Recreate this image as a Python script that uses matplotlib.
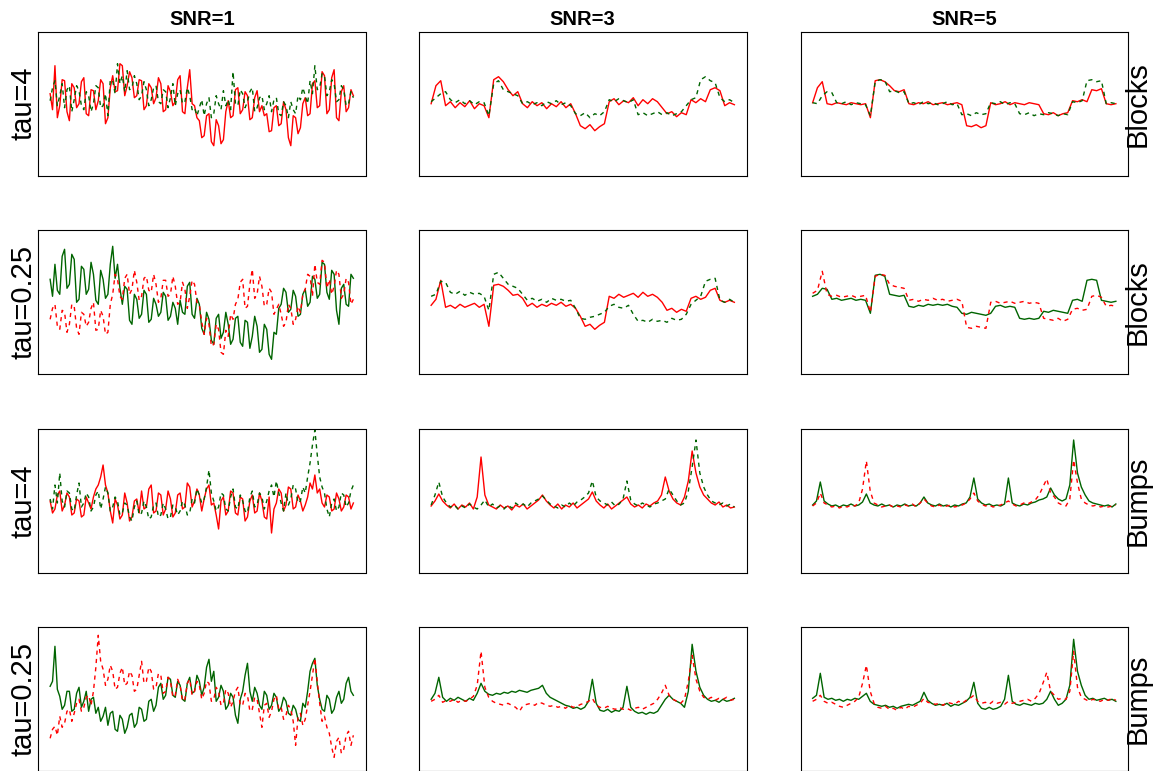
import matplotlib.pyplot as plt
import numpy as np

plt.rcParams['font.family'] = ['Liberation Sans', 'DejaVu Sans']

snr_labels = ['SNR=1', 'SNR=3', 'SNR=5']
tau_labels = ['tau=4', 'tau=0.25', 'tau=4', 'tau=0.25']
signal_labels = ['Blocks', 'Blocks', 'Bumps', 'Bumps']

# values: height above the panel bottom (panel = 144 units)
# Blocks, tau=4
blk_t4_s1_red = [82, 66, 110, 58, 70, 96, 95, 64, 55, 92, 88, 68, 72, 94, 98, 62, 60, 86, 85, 66,
                 75, 96, 92, 52, 58, 88, 100, 84, 85, 112, 110, 80, 90, 104, 98, 78, 80, 96, 95, 66,
                 70, 92, 88, 72, 78, 98, 92, 64, 66, 90, 84, 70, 74, 96, 100, 64, 62, 88, 106, 72,
                 70, 58, 55, 38, 40, 60, 62, 34, 30, 56, 50, 32, 36, 64, 75, 58, 60, 86, 88, 62,
                 66, 84, 80, 56, 58, 78, 85, 64, 70, 60, 62, 44, 45, 68, 70, 50, 52, 74, 66, 38,
                 30, 60, 58, 42, 48, 72, 78, 60, 62, 92, 95, 68, 70, 104, 100, 62, 66, 98, 106, 58,
                 55, 84, 90, 64, 68, 86, 80]
blk_t4_s1_green = [75, 88, 95, 70, 80, 92, 68, 86, 90, 64, 76, 90, 85, 70, 66, 84, 80, 64, 72, 90,
                   88, 68, 70, 82, 60, 96, 95, 82, 112, 92, 100, 84, 105, 86, 88, 100, 92, 76, 80, 94,
                   86, 70, 76, 88, 90, 74, 72, 86, 84, 68, 78, 92, 70, 82, 86, 72, 74, 88, 80, 66,
                   68, 60, 68, 76, 60, 72, 78, 58, 62, 80, 72, 66, 85, 70, 76, 66, 104, 72, 70, 86,
                   82, 68, 74, 84, 88, 64, 68, 78, 80, 66, 72, 80, 64, 76, 78, 62, 60, 74, 70, 58,
                   74, 66, 62, 80, 76, 88, 80, 72, 95, 82, 110, 86, 88, 102, 100, 80, 84, 96, 92, 74,
                   76, 90, 86, 70, 72, 84, 78]
blk_t4_s3_red = [72, 90, 95, 70, 74, 68, 73, 69, 75, 67, 72, 70, 58, 96, 99, 94, 86, 80, 84, 72,
                 68, 74, 70, 73, 67, 72, 69, 74, 68, 72, 62, 50, 47, 51, 45, 49, 52, 74, 77, 71,
                 75, 73, 78, 70, 76, 72, 77, 74, 68, 62, 64, 59, 63, 61, 76, 73, 77, 74, 86, 88,
                 85, 70, 73, 71]
blk_t4_s3_green = [74, 78, 82, 84, 76, 73, 76, 72, 75, 71, 74, 73, 60, 92, 95, 86, 84, 82, 80, 72,
                   74, 71, 73, 70, 74, 72, 75, 71, 73, 70, 62, 60, 63, 58, 62, 60, 64, 76, 74, 77,
                   75, 73, 76, 61, 63, 60, 62, 64, 61, 63, 60, 62, 64, 70, 76, 78, 96, 99, 95, 93,
                   78, 74, 76, 73]
blk_t4_s5_red = [73, 88, 94, 72, 71, 73, 72, 71, 73, 72, 71, 72, 58, 95, 96, 94, 90, 85, 84, 86,
                 72, 71, 73, 72, 74, 71, 72, 73, 71, 72, 73, 71, 50, 49, 51, 48, 50, 73, 71, 72,
                 74, 71, 73, 72, 71, 73, 72, 71, 62, 61, 63, 60, 62, 63, 75, 74, 76, 74, 86, 85,
                 87, 72, 71, 72]
blk_t4_s5_green = [73, 72, 80, 84, 83, 73, 72, 74, 71, 73, 72, 71, 60, 94, 96, 95, 84, 85, 83, 84,
                   72, 73, 71, 74, 72, 73, 71, 72, 74, 71, 72, 61, 62, 60, 63, 61, 62, 73, 72, 74,
                   71, 73, 72, 62, 61, 63, 60, 62, 61, 63, 62, 60, 62, 61, 74, 73, 75, 95, 96, 94,
                   95, 72, 73, 72]

# Blocks, tau=0.25
blk_t025_s1_red = [55, 66, 70, 48, 45, 64, 62, 42, 50, 70, 68, 46, 40, 62, 60, 48, 52, 66, 72, 44,
                   45, 64, 58, 40, 42, 70, 80, 100, 95, 78, 75, 96, 100, 80, 85, 104, 92, 74, 78, 96,
                   98, 84, 82, 100, 90, 72, 76, 94, 94, 78, 80, 98, 88, 70, 72, 92, 85, 66, 78, 94,
                   90, 72, 70, 52, 40, 56, 50, 28, 30, 50, 45, 22, 20, 44, 38, 60, 55, 70, 75, 92,
                   95, 66, 68, 90, 105, 76, 80, 98, 88, 68, 70, 86, 82, 60, 65, 70, 60, 48, 52, 70,
                   66, 50, 55, 68, 62, 80, 85, 100, 98, 78, 110, 92, 90, 114, 112, 86, 95, 80, 88, 104,
                   100, 76, 80, 96, 92, 70, 75]
blk_t025_s1_green = [95, 78, 110, 84, 80, 118, 125, 86, 90, 120, 115, 72, 75, 108, 105, 80, 85, 112, 100, 74,
                     70, 104, 95, 76, 80, 110, 128, 96, 110, 86, 70, 88, 85, 54, 50, 80, 75, 56, 60, 84,
                     80, 52, 55, 76, 70, 58, 62, 82, 78, 54, 58, 72, 66, 50, 74, 62, 60, 88, 92, 60,
                     56, 76, 70, 46, 40, 62, 55, 34, 30, 56, 60, 36, 42, 62, 50, 30, 35, 56, 58, 32,
                     28, 54, 52, 26, 38, 58, 48, 22, 25, 50, 45, 20, 15, 42, 40, 66, 70, 86, 82, 62,
                     65, 84, 78, 58, 60, 80, 85, 68, 72, 98, 95, 76, 80, 112, 110, 82, 75, 104, 100, 64,
                     50, 86, 90, 70, 68, 100, 96]
blk_t025_s3_red = [69, 75, 94, 67, 69, 66, 70, 67, 69, 71, 67, 70, 48, 89, 90, 88, 84, 79, 80, 76,
                   68, 71, 67, 70, 68, 71, 69, 72, 68, 70, 66, 58, 48, 50, 45, 49, 52, 78, 76, 80,
                   77, 79, 81, 77, 82, 78, 80, 77, 72, 64, 66, 62, 65, 63, 76, 78, 75, 77, 84, 86,
                   74, 72, 74, 72]
blk_t025_s3_green = [78, 80, 93, 92, 82, 80, 83, 79, 82, 80, 81, 78, 64, 100, 102, 96, 90, 88, 86, 80,
                     74, 76, 73, 75, 72, 76, 74, 75, 73, 74, 66, 56, 55, 57, 58, 60, 62, 68, 70, 67,
                     66, 69, 60, 53, 54, 52, 55, 53, 54, 52, 56, 54, 55, 60, 70, 74, 78, 93, 95, 96,
                     74, 72, 75, 72]
blk_t025_s5_red = [81, 84, 103, 80, 78, 79, 77, 78, 79, 77, 78, 79, 62, 98, 100, 99, 90, 88, 87, 86,
                   74, 75, 73, 75, 74, 76, 74, 75, 73, 74, 75, 73, 47, 46, 48, 47, 46, 72, 73, 71,
                   72, 73, 71, 72, 73, 71, 72, 71, 56, 55, 54, 56, 53, 55, 65, 66, 64, 65, 78, 79,
                   77, 68, 69, 68]
blk_t025_s5_green = [78, 80, 86, 85, 75, 76, 74, 75, 76, 74, 75, 74, 61, 99, 100, 98, 80, 79, 78, 79,
                     68, 67, 69, 68, 70, 69, 70, 69, 70, 68, 67, 61, 60, 62, 61, 60, 59, 61, 68, 69,
                     67, 68, 67, 56, 55, 56, 55, 56, 63, 62, 64, 63, 62, 61, 74, 75, 73, 94, 95, 94,
                     74, 73, 72, 73]

# Bumps, tau=4
bmp_t4_s1_red = [72, 60, 64, 78, 82, 62, 68, 80, 76, 58, 60, 74, 72, 56, 58, 76, 70, 64, 76, 84,
                 88, 96, 108, 88, 80, 62, 50, 74, 68, 54, 58, 80, 70, 52, 56, 72, 74, 60, 82, 64,
                 66, 84, 88, 60, 62, 80, 78, 58, 64, 82, 74, 56, 60, 78, 80, 64, 66, 90, 86, 66,
                 72, 84, 78, 62, 74, 84, 88, 68, 70, 58, 44, 72, 76, 58, 62, 82, 80, 60, 58, 76,
                 74, 52, 56, 72, 78, 60, 62, 80, 72, 56, 54, 76, 40, 64, 70, 84, 80, 62, 68, 86,
                 84, 64, 66, 78, 72, 62, 68, 76, 90, 84, 98, 80, 84, 70, 66, 78, 76, 62, 64, 80,
                 74, 62, 66, 78, 76, 64, 70]
bmp_t4_s1_green = [74, 64, 88, 70, 100, 72, 66, 82, 80, 64, 62, 78, 90, 66, 70, 80, 76, 62, 66, 78,
                   82, 64, 74, 86, 80, 62, 66, 76, 72, 58, 60, 70, 68, 56, 52, 66, 72, 58, 60, 72,
                   66, 54, 56, 68, 70, 56, 58, 70, 64, 54, 56, 68, 66, 58, 62, 72, 68, 58, 60, 74,
                   70, 84, 78, 70, 74, 86, 103, 80, 72, 62, 66, 80, 78, 64, 62, 76, 84, 66, 64, 78,
                   72, 62, 60, 76, 82, 66, 68, 80, 76, 64, 72, 82, 88, 76, 92, 80, 70, 62, 80, 68,
                   74, 88, 84, 70, 72, 86, 80, 96, 110, 128, 143, 118, 96, 86, 80, 64, 56, 70, 74, 62,
                   66, 80, 78, 66, 70, 82, 88]
bmp_t4_s3_red = [67, 72, 79, 72, 68, 65, 69, 64, 68, 66, 70, 64, 76, 116, 78, 68, 66, 64, 68, 65,
                 67, 63, 68, 66, 69, 64, 67, 70, 73, 78, 72, 68, 65, 69, 64, 68, 66, 70, 65, 68,
                 71, 74, 81, 72, 68, 65, 69, 64, 67, 70, 73, 76, 69, 66, 68, 65, 69, 67, 70, 72,
                 78, 96, 82, 74, 70, 68, 76, 92, 122, 100, 86, 78, 74, 70, 68, 71, 66, 68, 65, 66]
bmp_t4_s3_green = [68, 78, 91, 76, 70, 66, 68, 64, 67, 65, 69, 66, 64, 68, 73, 66, 69, 65, 67, 64,
                   68, 65, 70, 67, 69, 66, 70, 72, 74, 77, 73, 69, 67, 65, 68, 66, 70, 67, 71, 73,
                   76, 80, 92, 76, 72, 70, 68, 71, 67, 69, 74, 92, 73, 69, 67, 70, 68, 66, 69, 70,
                   72, 74, 84, 78, 72, 68, 70, 82, 106, 133, 100, 86, 78, 72, 70, 68, 70, 67, 69, 66]
bmp_t4_s5_red = [67, 70, 80, 70, 68, 66, 67, 65, 67, 66, 68, 67, 70, 84, 112, 82, 70, 68, 66, 67,
                 68, 66, 67, 66, 68, 67, 69, 66, 70, 74, 70, 67, 66, 68, 66, 67, 68, 66, 67, 68,
                 70, 74, 80, 72, 69, 67, 68, 66, 67, 68, 70, 72, 69, 67, 68, 70, 69, 71, 73, 78,
                 86, 94, 80, 76, 70, 68, 67, 74, 113, 90, 74, 70, 68, 67, 68, 66, 67, 66, 67, 68]
bmp_t4_s5_green = [68, 72, 91, 72, 69, 67, 68, 66, 68, 67, 69, 67, 68, 71, 79, 70, 68, 67, 69, 67,
                   68, 66, 68, 67, 69, 67, 68, 67, 70, 76, 70, 68, 67, 69, 67, 68, 66, 68, 67, 69,
                   70, 76, 95, 74, 70, 68, 69, 67, 68, 67, 69, 95, 70, 68, 67, 69, 68, 70, 71, 73,
                   74, 76, 85, 78, 74, 72, 74, 88, 133, 100, 86, 78, 72, 70, 69, 68, 67, 68, 66, 69]

# Bumps, tau=0.25
bmp_t025_s1_red = [33, 42, 45, 36, 55, 44, 48, 60, 62, 50, 58, 68, 72, 60, 64, 74, 76, 66, 80, 104,
                   136, 110, 102, 86, 92, 106, 100, 82, 84, 98, 104, 86, 88, 100, 96, 80, 82, 96, 110, 88,
                   90, 104, 100, 82, 84, 98, 96, 78, 80, 94, 90, 74, 76, 92, 86, 70, 72, 88, 92, 76,
                   80, 90, 86, 72, 78, 90, 88, 70, 72, 84, 80, 66, 68, 82, 78, 64, 70, 80, 84, 66,
                   66, 78, 76, 60, 62, 74, 72, 58, 44, 66, 68, 54, 60, 72, 76, 62, 64, 52, 56, 66,
                   62, 50, 26, 54, 58, 46, 52, 66, 80, 96, 113, 90, 68, 50, 55, 44, 38, 24, 14, 30,
                   34, 18, 22, 36, 40, 26, 36]
bmp_t025_s1_green = [85, 90, 125, 82, 75, 62, 66, 80, 80, 60, 62, 78, 84, 64, 70, 80, 60, 72, 74, 58,
                     64, 50, 55, 64, 46, 58, 60, 42, 40, 56, 52, 38, 44, 56, 58, 44, 48, 64, 62, 50,
                     52, 70, 72, 60, 66, 84, 88, 72, 76, 94, 92, 76, 74, 90, 86, 72, 70, 88, 94, 78,
                     80, 96, 90, 76, 84, 104, 112, 90, 100, 70, 74, 86, 80, 62, 66, 78, 74, 56, 48, 72,
                     80, 96, 108, 80, 70, 84, 78, 66, 62, 80, 76, 62, 66, 78, 74, 60, 64, 74, 70, 58,
                     56, 66, 62, 52, 50, 68, 64, 80, 100, 108, 113, 86, 72, 62, 60, 76, 72, 58, 62, 74,
                     80, 68, 72, 88, 94, 80, 76]
bmp_t025_s3_red = [70, 72, 76, 69, 71, 70, 72, 69, 71, 70, 72, 75, 86, 120, 84, 74, 70, 68, 67, 66,
                   68, 66, 64, 60, 66, 67, 68, 66, 69, 68, 66, 65, 66, 64, 65, 63, 66, 64, 65, 67,
                   68, 70, 73, 66, 64, 63, 65, 63, 62, 64, 62, 63, 61, 63, 64, 62, 64, 66, 68, 72,
                   78, 86, 76, 72, 70, 68, 72, 90, 116, 92, 80, 74, 72, 74, 71, 73, 72, 74, 71, 72]
bmp_t025_s3_green = [72, 78, 94, 74, 70, 73, 71, 74, 72, 70, 73, 71, 78, 88, 80, 77, 76, 78, 77, 79,
                     78, 80, 79, 81, 80, 79, 81, 82, 83, 86, 78, 74, 72, 70, 68, 66, 65, 63, 64, 62,
                     64, 70, 92, 68, 61, 60, 62, 59, 61, 60, 64, 85, 64, 60, 58, 59, 57, 59, 58, 60,
                     66, 72, 76, 72, 70, 68, 64, 80, 127, 100, 84, 76, 72, 70, 71, 69, 72, 70, 71, 73]
bmp_t025_s5_red = [70, 72, 76, 70, 68, 69, 67, 65, 64, 66, 68, 70, 74, 88, 106, 80, 68, 64, 63, 65,
                   62, 63, 61, 64, 62, 65, 64, 66, 68, 73, 69, 68, 67, 68, 66, 69, 68, 67, 70, 68,
                   71, 73, 76, 70, 68, 69, 67, 70, 68, 69, 67, 70, 68, 69, 70, 71, 72, 70, 73, 78,
                   88, 99, 80, 76, 72, 73, 72, 80, 120, 84, 74, 72, 70, 72, 71, 70, 72, 71, 73, 71]
bmp_t025_s5_green = [73, 76, 98, 74, 72, 73, 71, 72, 70, 72, 71, 73, 72, 75, 78, 70, 67, 66, 65, 66,
                     64, 65, 63, 65, 66, 67, 66, 68, 70, 79, 71, 68, 66, 67, 66, 68, 65, 67, 66, 68,
                     70, 74, 89, 68, 63, 62, 64, 62, 63, 65, 72, 96, 70, 67, 66, 68, 67, 66, 68, 67,
                     68, 72, 80, 72, 66, 68, 72, 86, 132, 100, 86, 76, 72, 73, 71, 72, 73, 71, 72, 70]

red_series = [[blk_t4_s1_red, blk_t4_s3_red, blk_t4_s5_red],
              [blk_t025_s1_red, blk_t025_s3_red, blk_t025_s5_red],
              [bmp_t4_s1_red, bmp_t4_s3_red, bmp_t4_s5_red],
              [bmp_t025_s1_red, bmp_t025_s3_red, bmp_t025_s5_red]]
green_series = [[blk_t4_s1_green, blk_t4_s3_green, blk_t4_s5_green],
                [blk_t025_s1_green, blk_t025_s3_green, blk_t025_s5_green],
                [bmp_t4_s1_green, bmp_t4_s3_green, bmp_t4_s5_green],
                [bmp_t025_s1_green, bmp_t025_s3_green, bmp_t025_s5_green]]
# which curve is drawn solid in each panel (the other one is dashed)
solid = [['red', 'red', 'red'],
         ['green', 'red', 'green'],
         ['red', 'red', 'green'],
         ['green', 'green', 'green']]

RED = '#ff0000'
GREEN = '#006400'
DASH = (0, (3, 3))

W, H = 1154, 771
fig = plt.figure(figsize=(W / 100, H / 100), dpi=100)
col_left = [38, 419, 800.5]
row_top = [31.7, 230.3, 429, 627.3]
pw, ph = 327.5, 144

for r in range(4):
    for c in range(3):
        ax = fig.add_axes([col_left[c] / W, 1 - (row_top[r] + ph) / H, pw / W, ph / H])
        red = red_series[r][c]
        green = green_series[r][c]
        xr = np.linspace(0, 1, len(red))
        xg = np.linspace(0, 1, len(green))
        if solid[r][c] == 'red':
            ax.plot(xr, red, color=RED, lw=1.0)
            ax.plot(xg, green, color=GREEN, lw=1.0, ls=DASH)
        else:
            ax.plot(xg, green, color=GREEN, lw=1.0)
            ax.plot(xr, red, color=RED, lw=1.0, ls=DASH)
        ax.set_xlim(-0.04, 1.04)
        ax.set_ylim(0, 144)
        ax.set_xticks([])
        ax.set_yticks([])
        for s in ax.spines.values():
            s.set_linewidth(0.8)

# column titles
for c in range(3):
    fig.text((col_left[c] + pw / 2) / W, 1 - 25 / H, snr_labels[c],
             ha='center', va='baseline', fontsize=14.5, fontweight='bold')

# row labels left and right
for r in range(4):
    yc = 1 - (row_top[r] + ph / 2) / H
    fig.text(32 / W, yc, tau_labels[r], rotation=90, rotation_mode='anchor',
             ha='center', va='baseline', fontsize=21)
    fig.text(1146 / W, yc, signal_labels[r], rotation=90, rotation_mode='anchor',
             ha='center', va='baseline', fontsize=21)

fig.savefig('out.png', dpi=100)
